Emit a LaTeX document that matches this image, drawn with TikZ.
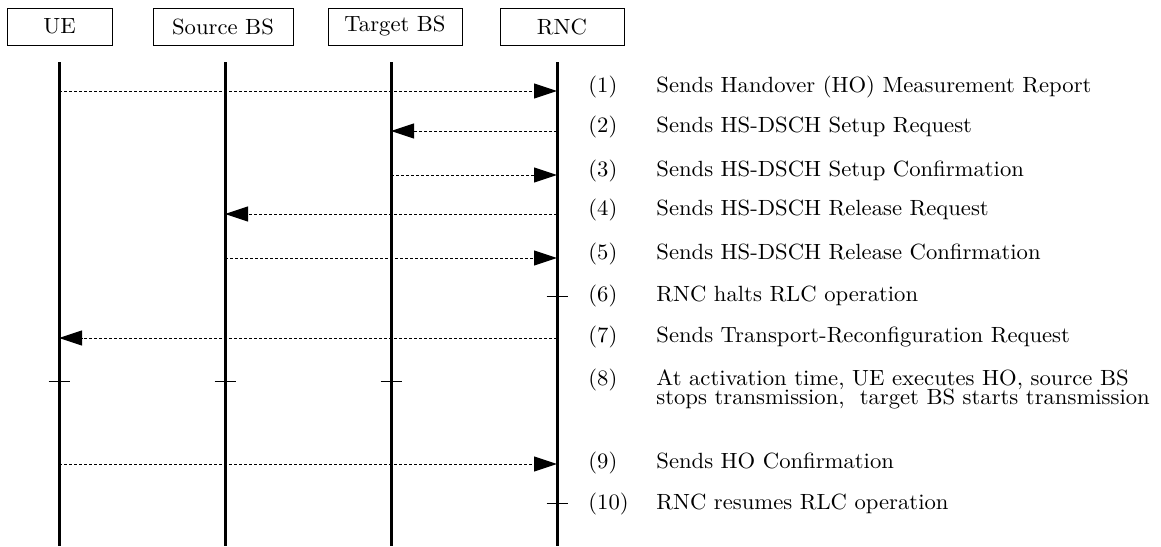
\documentclass[tikz,border=0pt]{standalone}
\usepackage{fontspec}
\setmainfont{Latin Modern Roman}[FakeStretch=1.03]
\usetikzlibrary{arrows.meta}
\begin{document}
\begin{tikzpicture}[x=0.5pt,y=-0.5pt,
  font=\fontsize{11}{12}\selectfont,
  actor/.style={draw,line width=0.5pt,minimum height=18.5pt,inner sep=0pt},
  lifeline/.style={line width=1.5pt},
  msg/.style={line width=0.5pt,dash pattern=on 1.4pt off 1.1pt,
    -{Triangle[length=11.5pt,width=7.5pt]}},
  tickmark/.style={line width=0.5pt},
  num/.style={anchor=base west,inner sep=0pt},
  desc/.style={anchor=base west,inner sep=0pt}]
\useasboundingbox (0,0) rectangle (1161,546);

% participants
\node[actor,minimum width=52.5pt] (ue)  at (59.5,26.5)  {UE};
\node[actor,minimum width=70pt]   (sbs) at (223,26.5)   {Source BS};
\node[actor,minimum width=67pt]   (tbs) at (395,26.5)   {Target BS};
\node[actor,minimum width=62pt]   (rnc) at (562,26.5)   {RNC};

% lifelines
\coordinate (ueT)  at (59,62);  \coordinate (ueB)  at (59,546);
\coordinate (sbsT) at (225,62); \coordinate (sbsB) at (225,546);
\coordinate (tbsT) at (391,62); \coordinate (tbsB) at (391,546);
\coordinate (rncT) at (557,62); \coordinate (rncB) at (557,546);
\draw[lifeline] (ueT) -- (ueB);
\draw[lifeline] (sbsT) -- (sbsB);
\draw[lifeline] (tbsT) -- (tbsB);
\draw[lifeline] (rncT) -- (rncB);

% rows of the sequence
\coordinate (r1) at (0,91);
\coordinate (r2) at (0,131);
\coordinate (r3) at (0,175);
\coordinate (r4) at (0,214);
\coordinate (r5) at (0,258);
\coordinate (r6) at (0,296);
\coordinate (r7) at (0,338);
\coordinate (r8) at (0,381);
\coordinate (r9) at (0,464);
\coordinate (r10) at (0,503);

% messages
\draw[msg] (ueT |- r1) -- (rncT |- r1);
\draw[msg] (rncT |- r2) -- (tbsT |- r2);
\draw[msg] (tbsT |- r3) -- (rncT |- r3);
\draw[msg] (rncT |- r4) -- (sbsT |- r4);
\draw[msg] (sbsT |- r5) -- (rncT |- r5);
\draw[msg] (rncT |- r7) -- (ueT |- r7);
\draw[msg] (ueT |- r9) -- (rncT |- r9);

% local actions
\coordinate (k6)  at (rncT |- r6);
\coordinate (k8a) at (ueT |- r8);
\coordinate (k8b) at (sbsT |- r8);
\coordinate (k8c) at (tbsT |- r8);
\coordinate (k10) at (rncT |- r10);
\foreach \k in {k6,k8a,k8b,k8c,k10}
  \draw[tickmark] ([xshift=-5.25pt]\k) -- ([xshift=5.25pt]\k);

% step numbers and descriptions
\node[num] (n1) at (588,92) {(1)};
\node[desc] (d1) at (656,92) {Sends Handover (HO) Measurement Report};
\node[num] (n2) at (588,132) {(2)};
\node[desc] (d2) at (656,132) {Sends HS-DSCH Setup Request};
\node[num] (n3) at (588,176) {(3)};
\node[desc] (d3) at (656,176) {Sends HS-DSCH Setup Confirmation};
\node[num] (n4) at (588,215) {(4)};
\node[desc] (d4) at (656,215) {Sends HS-DSCH Release Request};
\node[num] (n5) at (588,259) {(5)};
\node[desc] (d5) at (656,259) {Sends HS-DSCH Release Confirmation};
\node[num] (n6) at (588,301) {(6)};
\node[desc] (d6) at (656,301) {RNC halts RLC operation};
\node[num] (n7) at (588,342) {(7)};
\node[desc] (d7) at (656,342) {Sends Transport-Reconfiguration Request};
\node[num] (n8) at (588,385) {(8)};
\node[desc] (d8a) at (656,385) {At activation time, UE executes HO, source BS};
\node[desc] (d8b) at (656,404) {stops transmission,\ \ target BS starts transmission};
\node[num] (n9) at (588,468) {(9)};
\node[desc] (d9) at (656,468) {Sends HO Confirmation};
\node[num] (n10) at (588,509) {(10)};
\node[desc] (d10) at (656,509) {RNC resumes RLC operation};
\end{tikzpicture}
\end{document}
